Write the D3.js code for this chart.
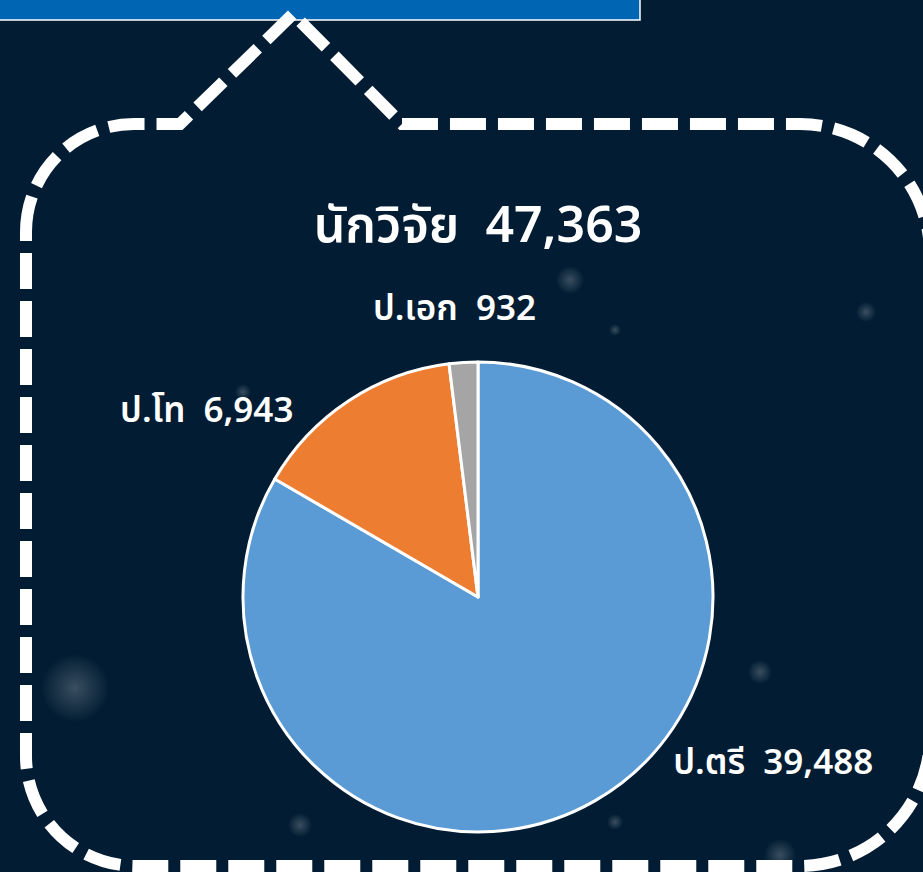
<!DOCTYPE html>
<html>
<head>
<meta charset="utf-8">
<script src="https://cdn.jsdelivr.net/npm/d3@7"></script>
<style>
  html, body { margin: 0; padding: 0; background: #021d33; overflow: hidden; }
  text { font-family: "Noto Sans", "Noto Sans Thai", sans-serif; font-weight: 600; fill: #fff; white-space: pre; }
</style>
</head>
<body>
<svg id="Viz" width="923" height="872"></svg>
<script>
// data
var categories = ["ป.ตรี", "ป.โท", "ป.เอก"];
var values = [39488, 6943, 932];
var colors = ["#5b9bd5", "#ed7d31", "#a5a5a5"];
var titleText = "นักวิจัย";
var total = 47363;

var svg = d3.select("#Viz"),
    width = +svg.attr("width"),
    height = +svg.attr("height");

svg.append("rect").attr("width", width).attr("height", height).attr("fill", "#021d33");

// faint glows in background
var defs = svg.append("defs");
var grad = defs.append("radialGradient").attr("id", "glow");
grad.append("stop").attr("offset", "0%").attr("stop-color", "#fff").attr("stop-opacity", 0.22);
grad.append("stop").attr("offset", "100%").attr("stop-color", "#fff").attr("stop-opacity", 0);

var glows = [[75, 688, 34], [300, 825, 12], [760, 672, 12], [866, 312, 10], [570, 280, 14], [615, 330, 6], [243, 392, 8], [780, 855, 16], [615, 822, 8]];
svg.selectAll(".glow").data(glows).enter().append("circle")
  .attr("class", "glow")
  .attr("cx", function(d) { return d[0]; })
  .attr("cy", function(d) { return d[1]; })
  .attr("r", function(d) { return d[2]; })
  .attr("fill", "url(#glow)");

// blue header box at top
svg.append("rect")
  .attr("x", -2).attr("y", -2).attr("width", 642).attr("height", 22)
  .attr("fill", "#0066b3").attr("stroke", "#fff").attr("stroke-width", 1.5);

// dashed callout outline (right side runs just off the page)
var L = 26, R = 930, T = 124, B = 866;
var p = d3.path();
p.moveTo(L, T + 108);
p.arcTo(L, T, L + 108, T, 108);
p.lineTo(180, T);
p.lineTo(293, 14);
p.lineTo(402, T);
p.lineTo(R - 130, T);
p.arcTo(R, T, R, T + 130, 130);
p.lineTo(R, B - 130);
p.arcTo(R, B, R - 130, B, 130);
p.lineTo(L + 110, B);
p.arcTo(L, B, L, B - 110, 110);
p.closePath();

svg.append("path")
  .attr("d", p.toString())
  .attr("fill", "none")
  .attr("stroke", "#fff")
  .attr("stroke-width", 12)
  .attr("stroke-dasharray", "36 12")
  .attr("stroke-linejoin", "miter");

// title
svg.append("text")
  .attr("x", 478).attr("y", 242)
  .attr("text-anchor", "middle")
  .attr("font-size", 50)
  .text(titleText + "  " + d3.format(",")(total));

// pie
var cx = 478, cy = 597, radius = 235;
var data = categories.map(function(c, i) { return {name: c, value: values[i], color: colors[i]}; });

var pie = d3.pie().sort(null).value(function(d) { return d.value; });
var arc = d3.arc().innerRadius(0).outerRadius(radius);

var g = svg.append("g").attr("transform", "translate(" + cx + "," + cy + ")");
var arcs = pie(data);

g.selectAll("path").data(arcs).enter().append("path")
  .attr("d", arc)
  .attr("fill", function(d) { return d.data.color; })
  .attr("stroke", "#fff")
  .attr("stroke-width", 3)
  .attr("stroke-linejoin", "round");

// label placement nudges (Excel best-fit style)
var nudge = [[78, -27, "start"], [-55, 21, "end"], [-9, -42, "middle"]];
g.selectAll(".lbl").data(arcs).enter().append("text")
  .attr("class", "lbl")
  .attr("font-size", 35)
  .attr("text-anchor", function(d, i) { return nudge[i][2]; })
  .attr("x", function(d, i) {
    var a = (d.startAngle + d.endAngle) / 2;
    return Math.sin(a) * radius + nudge[i][0];
  })
  .attr("y", function(d, i) {
    var a = (d.startAngle + d.endAngle) / 2;
    return -Math.cos(a) * radius + nudge[i][1];
  })
  .text(function(d) { return d.data.name + "  " + d3.format(",")(d.data.value); });
</script>
</body>
</html>
